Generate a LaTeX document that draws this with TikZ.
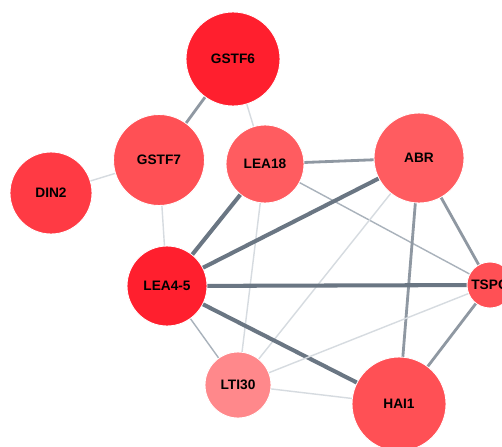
\documentclass[tikz,border=0pt]{standalone}
\usepackage{fontspec}
\setsansfont{Liberation Sans}
\definecolor{redA}{HTML}{FF1F2E}
\definecolor{redB}{HTML}{FF3A44}
\definecolor{redC}{HTML}{FF5055}
\definecolor{redD}{HTML}{FF5C60}
\definecolor{redE}{HTML}{FF888B}
\definecolor{edgeDark}{HTML}{6A7683}
\definecolor{edgeMid}{HTML}{A9B2BB}
\definecolor{edgeLight}{HTML}{D6DBE0}
\begin{document}
\begin{tikzpicture}[x=0.02cm, y=-0.02cm,
                    main node/.style={circle, draw=white, line width=0.5pt, inner sep=0pt,
                                      font=\sffamily\bfseries\fontsize{7.8}{9}\selectfont},
                    heavy edge/.style={draw=edgeDark, line width=2.3pt},
                    mid edge/.style={draw=edgeDark!75!white, line width=1.6pt},
                    thin edge/.style={draw=edgeMid, line width=0.8pt},
                    faint edge/.style={draw=edgeLight, line width=0.8pt}]

  \clip (0,0) rectangle (502,446);
  \fill[white] (0,0) rectangle (502,446);

  \node[main node, fill=redA, minimum size=1.88cm] (gstf6) at (233,59) {GSTF6};
  \node[main node, fill=redC, minimum size=1.82cm] (gstf7) at (159,160) {GSTF7};
  \node[main node, fill=redB, minimum size=1.64cm] (din2) at (51,193) {DIN2};
  \node[main node, fill=redD, minimum size=1.56cm] (lea18) at (265,164) {LEA18};
  \node[main node, fill=redD, minimum size=1.80cm] (abr) at (419,158) {ABR};
  \node[main node, fill=redA, minimum size=1.60cm] (lea45) at (167,286) {LEA4-5};
  \node[main node, fill=redC, minimum size=0.92cm] (tspo) at (490,285) {TSPO};
  \node[main node, fill=redE, minimum size=1.32cm] (lti30) at (238,385) {LTI30};
  \node[main node, fill=redC, minimum size=1.88cm] (hai1) at (399,404) {HAI1};

  \path
    (gstf6) edge[mid edge] (gstf7)
            edge[faint edge] (lea18)

    (gstf7) edge[faint edge] (din2)
            edge[faint edge] (lea45)

    (lea18) edge[mid edge] (abr)
            edge[heavy edge] (lea45)
            edge[faint edge] (lti30)
            edge[thin edge] (tspo)

    (abr)   edge[heavy edge] (lea45)
            edge[faint edge] (lti30)
            edge[mid edge] (hai1)
            edge[mid edge] (tspo)

    (lea45) edge[heavy edge] (tspo)
            edge[heavy edge] (hai1)
            edge[thin edge] (lti30)

    (tspo)  edge[faint edge] (lti30)
            edge[mid edge] (hai1)

    (lti30) edge[faint edge] (hai1)
    ;

\end{tikzpicture}
\end{document}
